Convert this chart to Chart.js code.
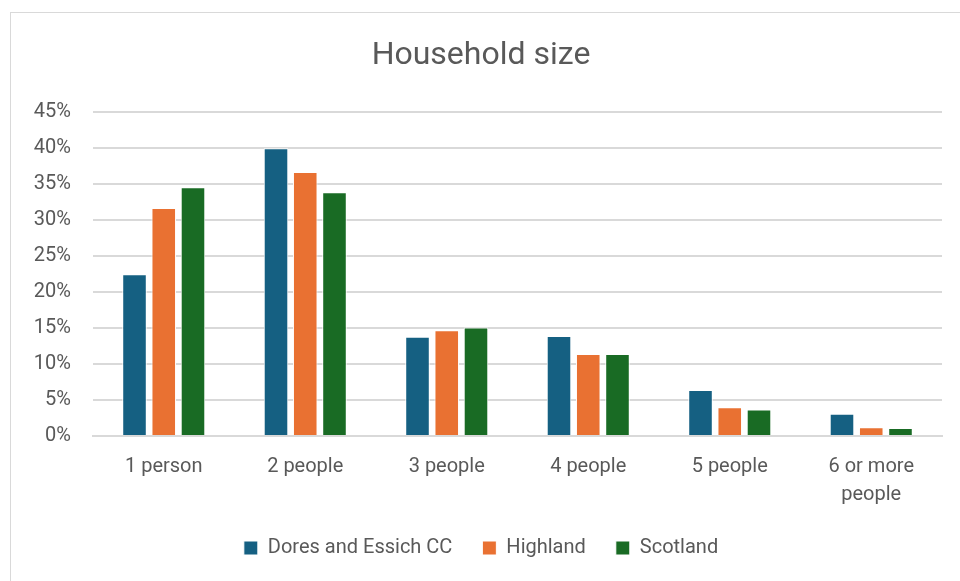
<!DOCTYPE html>
<html>
<head>
<meta charset="utf-8">
<script src="https://cdn.jsdelivr.net/npm/chart.js@4"></script>
<style>
    html, body { margin: 0; padding: 0; background: #fff; }
    #wrap { position: relative; width: 960px; height: 581px; overflow: hidden; }
    #frame { position: absolute; left: 10px; top: 12px; width: 960px; height: 600px; border: 1px solid #d9d9d9; box-sizing: border-box; }
    canvas { position: absolute; left: 0; top: 0; }
</style>
</head>
<body>
<div id="wrap">
    <div id="frame"></div>
    <canvas id="chart" width="960" height="581"></canvas>
</div>
<script>
const categories = ['1 person', '2 people', '3 people', '4 people', '5 people', ['6 or more', 'people']];
const dores = [22.5, 40.0, 13.8, 13.9, 6.4, 3.1];
const highland = [31.7, 36.7, 14.7, 11.4, 4.0, 1.2];
const scotland = [34.6, 33.9, 15.1, 11.4, 3.7, 1.1];

const textColor = '#595959';
const fontFamily = 'Roboto, "Liberation Sans", sans-serif';

function barSet(label, values, color) {
    return {
        label: label,
        data: values,
        backgroundColor: color,
        borderColor: '#ffffff',
        borderWidth: 1,
        barPercentage: 0.84,
        categoryPercentage: 0.62
    };
}

const config = {
    type: 'bar',
    data: {
        labels: categories,
        datasets: [
            barSet('Dores and Essich CC', dores, '#156082'),
            barSet('Highland', highland, '#E97132'),
            barSet('Scotland', scotland, '#196B24')
        ]
    },
    options: {
        responsive: false,
        animation: false,
        layout: {padding: {left: 20, right: 18, top: 37, bottom: 13}},
        plugins: {
            title: {
                display: true,
                text: 'Household size',
                color: textColor,
                font: {family: fontFamily, size: 32, weight: 'normal'},
                padding: {top: 0, bottom: 37}
            },
            legend: {
                position: 'bottom',
                labels: {
                    color: textColor,
                    font: {family: fontFamily, size: 20},
                    boxWidth: 14,
                    boxHeight: 14,
                    padding: 30
                }
            },
            tooltip: {enabled: false}
        },
        scales: {
            x: {
                grid: {display: false},
                border: {color: '#d9d9d9', width: 2},
                afterFit: (scale) => { scale.height = 72; },
                ticks: {color: textColor, font: {family: fontFamily, size: 20, lineHeight: 1.4}, maxRotation: 0, padding: 9}
            },
            y: {
                min: 0,
                max: 45,
                grid: {color: '#d9d9d9', lineWidth: 2, drawTicks: false},
                border: {display: false},
                afterFit: (scale) => { scale.width = 73; },
                ticks: {
                    stepSize: 5,
                    color: textColor,
                    padding: 22,
                    font: {family: fontFamily, size: 20},
                    callback: (v) => v + '%'
                }
            }
        }
    }
};

new Chart(document.getElementById('chart').getContext('2d'), config);
</script>
</body>
</html>
